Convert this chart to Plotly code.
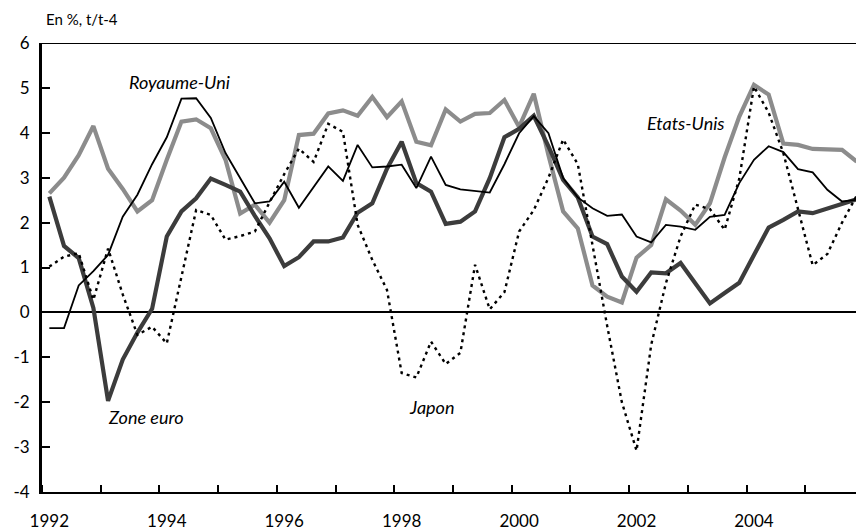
import plotly.graph_objects as go

quarters = [f"{y}T{q}" for y in range(1992, 2006) for q in range(1, 5)]

etats_unis = [2.65, 3.0, 3.5, 4.15, 3.2, 2.75, 2.25, 2.5, 3.4, 4.25, 4.3, 4.1, 3.4, 2.2,
              2.4, 2.0, 2.5, 3.95, 3.98, 4.43, 4.5, 4.38, 4.8, 4.35, 4.7, 3.8, 3.72, 4.52,
              4.25, 4.42, 4.44, 4.73, 4.13, 4.87, 3.5, 2.25, 1.87, 0.6, 0.35, 0.22, 1.22,
              1.5, 2.52, 2.27, 1.95, 2.43, 3.45, 4.36, 5.07, 4.85, 3.76, 3.73, 3.64, 3.62,
              3.62, 3.36]
zone_euro = [2.58, 1.48, 1.21, 0.1, -1.97, -1.05, -0.45, 0.08, 1.69, 2.25, 2.54, 2.98,
             2.84, 2.69, 2.15, 1.65, 1.03, 1.23, 1.58, 1.58, 1.67, 2.22, 2.43, 3.2, 3.8,
             2.88, 2.69, 1.97, 2.02, 2.25, 2.99, 3.9, 4.09, 4.38, 3.7, 2.95, 2.56, 1.69,
             1.52, 0.8, 0.46, 0.89, 0.87, 1.1, 0.65, 0.2, 0.43, 0.66, 1.28, 1.89, 2.06,
             2.25, 2.21, 2.32, 2.43, 2.52]
royaume_uni = [-0.35, -0.35, 0.6, 0.92, 1.28, 2.13, 2.62, 3.3, 3.9, 4.76, 4.77, 4.33,
               3.55, 2.98, 2.43, 2.47, 2.91, 2.33, 2.8, 3.25, 2.93, 3.73, 3.23, 3.25,
               3.29, 2.77, 3.47, 2.84, 2.74, 2.7, 2.67, 3.3, 3.99, 4.37, 3.99, 2.99, 2.56,
               2.32, 2.15, 2.18, 1.69, 1.56, 1.95, 1.91, 1.84, 2.13, 2.17, 2.88, 3.4, 3.7,
               3.57, 3.19, 3.12, 2.73, 2.47, 2.51]
japon = [1.02, 1.24, 1.32, 0.28, 1.42, 0.4, -0.5, -0.32, -0.69, 0.78, 2.28, 2.17, 1.62,
         1.7, 1.8, 2.45, 3.08, 3.65, 3.35, 4.2, 4.02, 1.95, 1.17, 0.5, -1.35, -1.45,
         -0.65, -1.15, -0.9, 1.06, 0.07, 0.45, 1.8, 2.28, 3.0, 3.85, 3.3, 1.5, -0.3,
         -2.0, -3.08, -0.72, 0.65, 1.69, 2.4, 2.3, 1.84, 2.98, 5.03, 4.45, 3.55, 2.3,
         1.05, 1.3, 2.0, 2.6]

year_labels = ["1992", "1994", "1996", "1998", "2000", "2002", "2004"]
y_ticks = [-4, -3, -2, -1, 0, 1, 2, 3, 4, 5, 6]

FONT = "Lato"
x = list(range(len(quarters)))

fig = go.Figure()
fig.add_trace(go.Scatter(x=x, y=etats_unis, mode="lines", name="Etats-Unis",
                         line=dict(color="#8c8c8c", width=4.2)))
fig.add_trace(go.Scatter(x=x, y=zone_euro, mode="lines", name="Zone euro",
                         line=dict(color="#3c3c3c", width=4.2)))
fig.add_trace(go.Scatter(x=x, y=royaume_uni, mode="lines", name="Royaume-Uni",
                         line=dict(color="#000000", width=1.8)))
fig.add_trace(go.Scatter(x=x, y=japon, mode="lines", name="Japon",
                         line=dict(color="#000000", width=2.4, dash="3px,4px")))

label_pos = [i * 8 for i in range(len(year_labels))]

fig.update_layout(
    width=856, height=531,
    margin=dict(l=42, r=0, t=43, b=39, autoexpand=False),
    paper_bgcolor="white", plot_bgcolor="white",
    showlegend=False,
    font=dict(family=FONT, size=17, color="#000"),
    xaxis=dict(
        range=[-0.5, 54.95], showgrid=False, zeroline=False, automargin=False,
        showline=True, linecolor="black", linewidth=2.2,
        tickmode="array", tickvals=label_pos, ticktext=year_labels,
        ticks="", ticklabelstandoff=12,
        tickfont=dict(family=FONT, size=17),
        minor=dict(tickmode="linear", tick0=-0.5, dtick=4, ticks="inside",
                   ticklen=7, tickwidth=2, tickcolor="black", showgrid=False),
    ),
    yaxis=dict(
        range=[-4, 6], showgrid=False, automargin=False,
        zeroline=True, zerolinecolor="black", zerolinewidth=1.5,
        showline=True, linecolor="black", linewidth=3,
        tickmode="array", tickvals=y_ticks, ticktext=[str(v) for v in y_ticks],
        ticks="inside", ticklen=8, tickwidth=2, tickcolor="black",
        ticklabelstandoff=6,
        tickfont=dict(family=FONT, size=17),
    ),
)

fig.add_shape(type="line", xref="paper", yref="y", x0=0, x1=1, y0=6, y1=6,
              line=dict(color="black", width=2.2))

fig.add_annotation(text="En %, t/t-4", xref="paper", yref="paper", x=0.003, y=1.0,
                   xanchor="left", yanchor="bottom", yshift=13, showarrow=False,
                   font=dict(family=FONT, size=15))

labels = [("Royaume-Uni", 179, 82), ("Etats-Unis", 686, 123),
          ("Zone euro", 146, 417), ("Japon", 431, 407)]
for txt, px, py in labels:
    fig.add_annotation(text=txt, xref="paper", yref="paper",
                       x=(px - 42) / 814, y=1 - (py - 43) / 449,
                       xanchor="center", yanchor="middle", showarrow=False,
                       font=dict(family=FONT, size=18, style="italic"))

fig.write_html(
    "out.html",
    config={"displayModeBar": False},
    post_script="document.body.style.margin='0px';document.body.style.overflow='hidden';",
)
